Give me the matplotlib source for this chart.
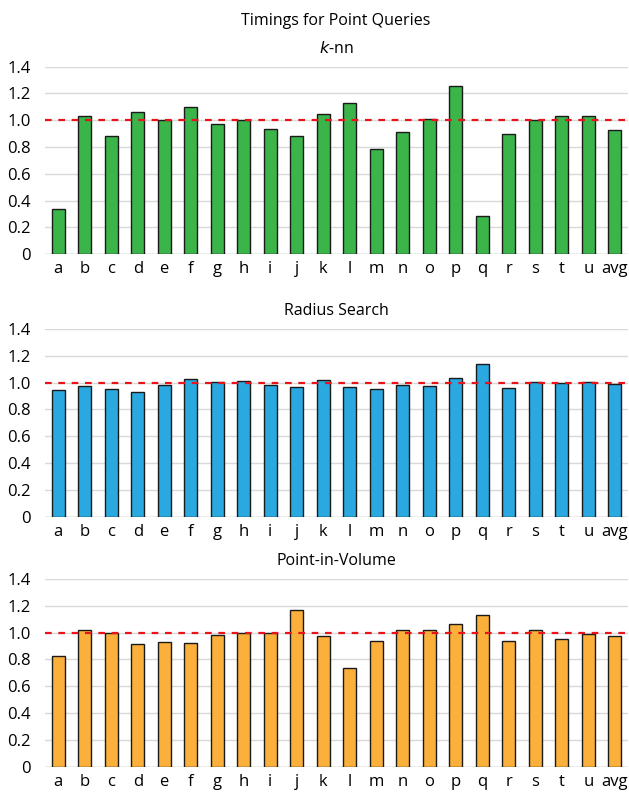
import matplotlib
matplotlib.use("Agg")
import matplotlib.pyplot as plt
import numpy as np

# Categories and values
labels = list("abcdefghijklmnopqrstu") + ["avg"]

knn = [0.34, 1.03, 0.885, 1.06, 1.00, 1.10, 0.975, 1.00, 0.935, 0.885, 1.045,
       1.125, 0.785, 0.91, 1.005, 1.255, 0.285, 0.90, 1.00, 1.03, 1.03, 0.93]
radius = [0.947, 0.977, 0.952, 0.93, 0.982, 1.027, 1.004, 1.012, 0.982, 0.967, 1.019,
          0.97, 0.95, 0.982, 0.975, 1.031, 1.14, 0.96, 1.006, 1.0, 1.004, 0.99]
piv = [0.824, 1.017, 0.995, 0.918, 0.93, 0.92, 0.98, 1.0, 0.997, 1.168, 0.975,
       0.737, 0.938, 1.017, 1.02, 1.064, 1.129, 0.938, 1.02, 0.95, 0.993, 0.978]

yticks = [0, 0.2, 0.4, 0.6, 0.8, 1.0, 1.2, 1.4]
ytick_labels = ["0", "0.2", "0.4", "0.6", "0.8", "1.0", "1.2", "1.4"]

plt.rcParams['font.family'] = ['Open Sans', 'DejaVu Sans']

fig = plt.figure(figsize=(6.29, 7.92), dpi=100)

panels = [
    (knn, "#3bb44a", r"$\it{k}$-nn", 0.679),
    (radius, "#29a9e0", "Radius Search", 0.3476),
    (piv, "#fbb03b", "Point-in-Volume", 0.032),
]

x = np.arange(len(labels))
for vals, color, title, bottom in panels:
    ax = fig.add_axes([0.0715, bottom, 0.927, 0.237])
    ax.bar(x, vals, width=0.5, color=color, edgecolor="#1a1a1a", linewidth=1.0, zorder=3)
    ax.axhline(1.0, color="#e8141b", linestyle=(0, (3, 3)), linewidth=1.6, zorder=4)
    ax.set_xlim(-0.5, len(labels) - 0.5)
    ax.set_ylim(0, 1.4)
    ax.set_yticks(yticks)
    ax.set_yticklabels(ytick_labels, fontsize=12)
    ax.set_xticks(x)
    ax.set_xticklabels(labels, fontsize=12)
    ax.tick_params(axis="y", length=0, pad=10)
    ax.tick_params(axis="x", length=0, pad=5)
    ax.grid(axis="y", color="#d9d9d9", linewidth=1.0, zorder=0)
    for s in ax.spines.values():
        s.set_visible(False)
    ax.axhline(0, color="#bfbfbf", linewidth=1.0, zorder=2)
    ax.set_title(title, fontsize=11.5, pad=10)

fig.text(0.533, 0.974, "Timings for Point Queries", ha="center", va="center", fontsize=11.5)

fig.savefig("out.png", dpi=100)
